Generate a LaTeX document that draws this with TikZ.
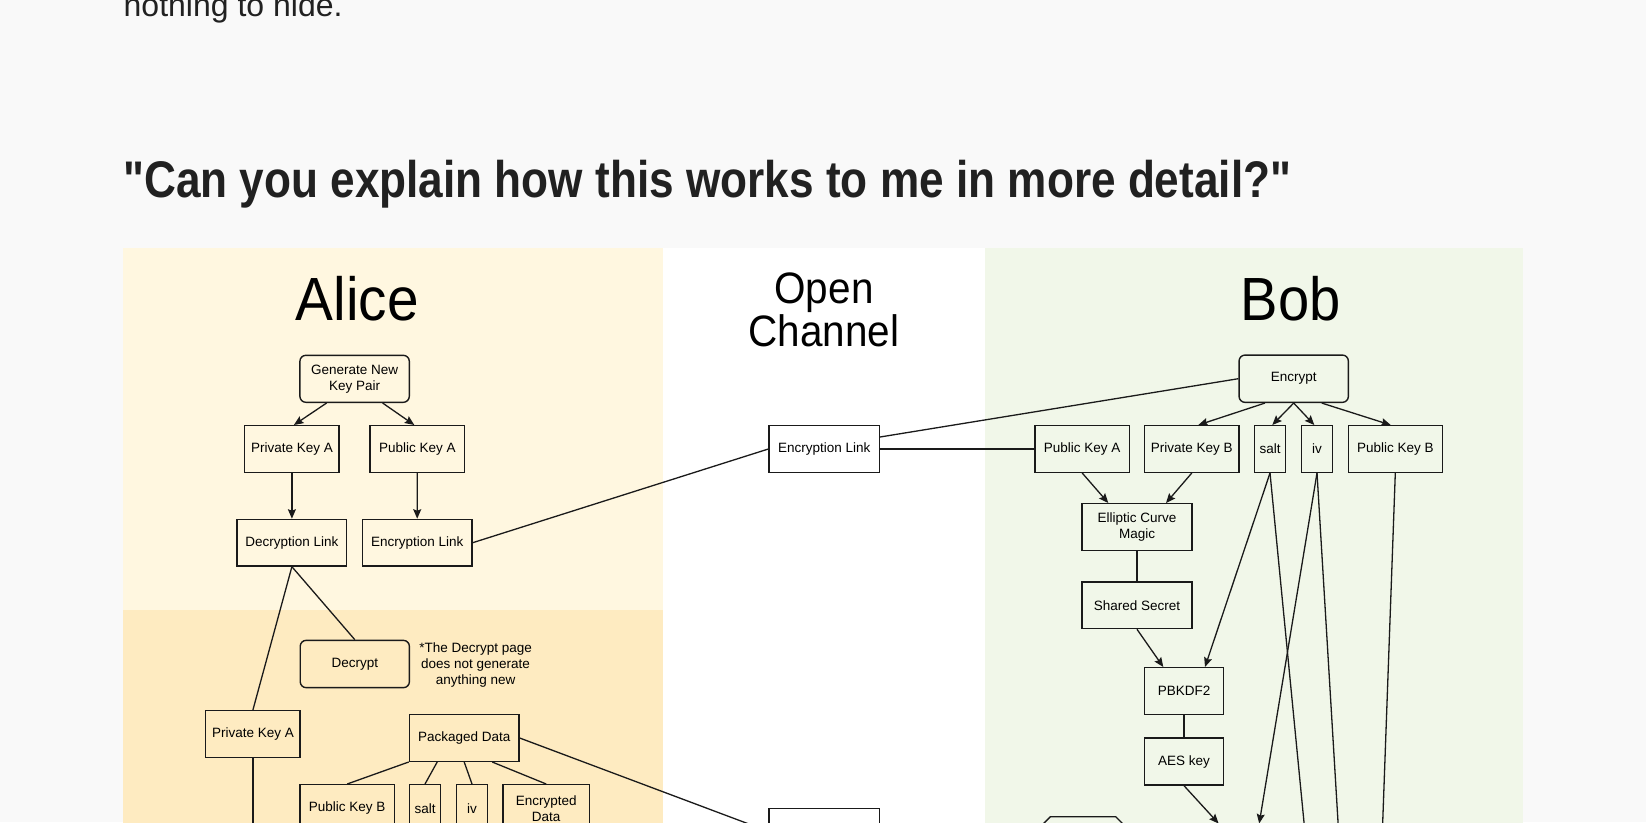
\documentclass[tikz,border=0pt]{standalone}
\usepackage{fontspec}
\usepackage{graphicx}
\setmainfont{Liberation Sans}
\newfontfamily\narrowfont[FakeStretch=0.92]{Liberation Sans}
\newfontfamily\plainfont{Liberation Sans}
\usetikzlibrary{arrows.meta}
\definecolor{pagebg}{HTML}{F9F9F9}
\definecolor{alicetop}{HTML}{FFF7E0}
\definecolor{alicebot}{HTML}{FEEBC1}
\definecolor{bobbg}{HTML}{F1F7E9}
\definecolor{titlec}{HTML}{212121}
\definecolor{boxc}{HTML}{1A1A1A}
\begin{document}
\begin{tikzpicture}[x=1pt,y=-1pt,
  box/.style={draw=boxc, line width=1.4pt, minimum height=46.6pt, inner sep=0pt,
    font=\fontsize{13.5}{16}\selectfont, align=center},
  rbox/.style={box, rounded corners=6pt},
  link/.style={draw=boxc, line width=1.3pt},
  arr/.style={link, -{Stealth[length=9.5pt,width=8pt,inset=1.5pt]}},
  ttl/.style={inner sep=0pt, anchor=base, text=black}
]
\clip (0,0) rectangle (1646,822);
% backgrounds
\fill[pagebg] (0,0) rectangle (1646,822);
\fill[alicetop] (122.8,247.7) rectangle (663.4,609.9);
\fill[alicebot] (122.8,609.9) rectangle (663.4,830);
\fill[white] (663.4,247.7) rectangle (984.6,830);
\fill[bobbg] (984.6,247.7) rectangle (1523.1,830);

% page text
\node[inner sep=0pt, anchor=base west, text=titlec] (prev) at (123.5,16)
  {\fontsize{32}{32}\selectfont nothing to hide.};
\node[inner sep=0pt, anchor=base west, text=titlec] (title) at (123,197.5)
  {\resizebox{1168pt}{\height}{\plainfont\fontsize{51.5}{52}\selectfont\bfseries "Can you explain how this works to me in more detail?"}};

% column titles
\node[ttl] (alice) at (357.4,320) {\scalebox{0.93}[1]{\fontsize{61}{61}\selectfont Alice}};
\node[ttl] (bob) at (1290.6,320) {\scalebox{0.92}[1]{\fontsize{61}{61}\selectfont Bob}};
\node[ttl, align=center, font=\narrowfont\fontsize{44}{35}\selectfont] (oc) at (824,346) {Open\\Channel};

% Alice
\node[rbox, minimum width=109.4pt, minimum height=47pt] (gen) at (354.6,378.8) {Generate New\\Key Pair};
\node[box, minimum width=94.4pt] (apriv) at (291.9,449) {Private Key A};
\node[box, minimum width=94.4pt] (apub) at (417.3,449) {Public Key A};
\node[box, minimum width=109.6pt] (adec) at (291.9,542.7) {Decryption Link};
\node[box, minimum width=109.6pt] (aenc) at (417.2,542.7) {Encryption Link};
\node[rbox, minimum width=109.2pt, minimum height=47.3pt] (decrypt) at (354.8,664) {Decrypt};
\node[inner sep=0pt, align=center, font=\fontsize{13.5}{16}\selectfont] (note) at (475.6,665)
  {*The Decrypt page\\does not generate\\anything new};
\node[box, minimum width=94.3pt] (apriv2) at (252.9,734) {Private Key A};
\node[box, minimum width=109.6pt] (pkg) at (464.2,738) {Packaged Data};
\node[box, minimum width=94.2pt, minimum height=47pt] (pubB2) at (347.2,808.2) {Public Key B};
\node[box, minimum width=31.4pt, minimum height=47pt] (salt2) at (425,808.2) {salt};
\node[box, minimum width=31.4pt, minimum height=47pt] (iv2) at (472,808.2) {iv};
\node[box, minimum width=86.3pt, minimum height=47pt] (encd) at (546.2,808.2) {Encrypted\\Data};

% Open channel
\node[box, minimum width=110.3pt] (ocenc) at (824.2,449) {Encryption Link};
\node[box, minimum width=110.3pt, minimum height=46pt] (oclow) at (824.2,831.3) {};

% Bob
\node[rbox, minimum width=109.3pt, minimum height=47.3pt] (encrypt) at (1293.7,378.7) {Encrypt};
\node[box, minimum width=94.3pt] (bpubA) at (1082.2,449) {Public Key A};
\node[box, minimum width=94.3pt] (bprivB) at (1191.8,449) {Private Key B};
\node[box, minimum width=31.4pt] (bsalt) at (1270,449) {salt};
\node[box, minimum width=31.4pt] (biv) at (1317,449) {iv};
\node[box, minimum width=94pt] (bpubB) at (1395.3,449) {Public Key B};
\node[box, minimum width=110pt, minimum height=47pt] (ecm) at (1137,527.2) {Elliptic Curve\\Magic};
\node[box, minimum width=110pt] (shared) at (1137,605.3) {Shared Secret};
\node[box, minimum width=78.6pt, minimum height=47pt] (pbkdf) at (1184,691.2) {PBKDF2};
\node[box, minimum width=78.6pt, minimum height=47pt] (aes) at (1184,761.5) {AES key};
% partly visible shape at the bottom
\draw[boxc, line width=1.4pt] (1036,831) -- (1050.3,816.7) -- (1115.7,816.7) -- (1130,831);

% free ends below the picture
\coordinate (tgtA) at (1218.6,823.5);
\coordinate (tgtB) at (1259.2,823.5);
\coordinate (saltEnd) at (1306.7,850);
\coordinate (ivEnd) at (1339.7,850);
\coordinate (pubBEnd) at (1381.7,850);
\coordinate (aprivEnd) at (252.9,850);

% Alice connectors
\draw[arr] ([xshift=-28pt]gen.south) -- ([xshift=2pt]apriv.north);
\draw[arr] ([xshift=28pt]gen.south) -- ([xshift=-3pt]apub.north);
\draw[arr] (apriv.south) -- (adec.north);
\draw[arr] (apub.south) -- (aenc.north);
\draw[link] (adec.south) -- (apriv2.north);
\draw[link] (adec.south) -- (decrypt.north);
\draw[link] (apriv2.south) -- (aprivEnd);
\draw[link] (pkg.south west) -- (pubB2.north);
\draw[link] ([xshift=-27pt]pkg.south) -- (salt2.north);
\draw[link] (pkg.south) -- (iv2.north);
\draw[link] ([xshift=28pt]pkg.south) -- (encd.north);
\draw[link] (pkg.east) -- (oclow.west);

% across the channel
\draw[link] (aenc.east) -- (ocenc.west);
\draw[link] (ocenc.east) -- (bpubA.west);
\draw[link] ([yshift=12pt]ocenc.east) -- (encrypt.west);

% Bob connectors
\draw[arr] ([xshift=-28.7pt]encrypt.south) -- ([xshift=6.5pt]bprivB.north);
\draw[arr] (encrypt.south) -- ([xshift=2.3pt]bsalt.north);
\draw[arr] (encrypt.south) -- ([xshift=-2.7pt]biv.north);
\draw[arr] ([xshift=28pt]encrypt.south) -- ([xshift=-4.6pt]bpubB.north);
\draw[arr] (bpubA.south) -- ([xshift=-28.7pt]ecm.north);
\draw[arr] (bprivB.south) -- ([xshift=29pt]ecm.north);
\draw[link] (ecm.south) -- (shared.north);
\draw[arr] (shared.south) -- ([xshift=-20.7pt]pbkdf.north);
\draw[arr] (bsalt.south) -- ([xshift=21pt]pbkdf.north);
\draw[link] (pbkdf.south) -- (aes.north);
\draw[arr] (aes.south) -- (tgtA);
\draw[arr] (biv.south) -- (tgtB);
\draw[link] (bsalt.south) -- (saltEnd);
\draw[link] (biv.south) -- (ivEnd);
\draw[link] (bpubB.south) -- (pubBEnd);
\end{tikzpicture}
\end{document}
